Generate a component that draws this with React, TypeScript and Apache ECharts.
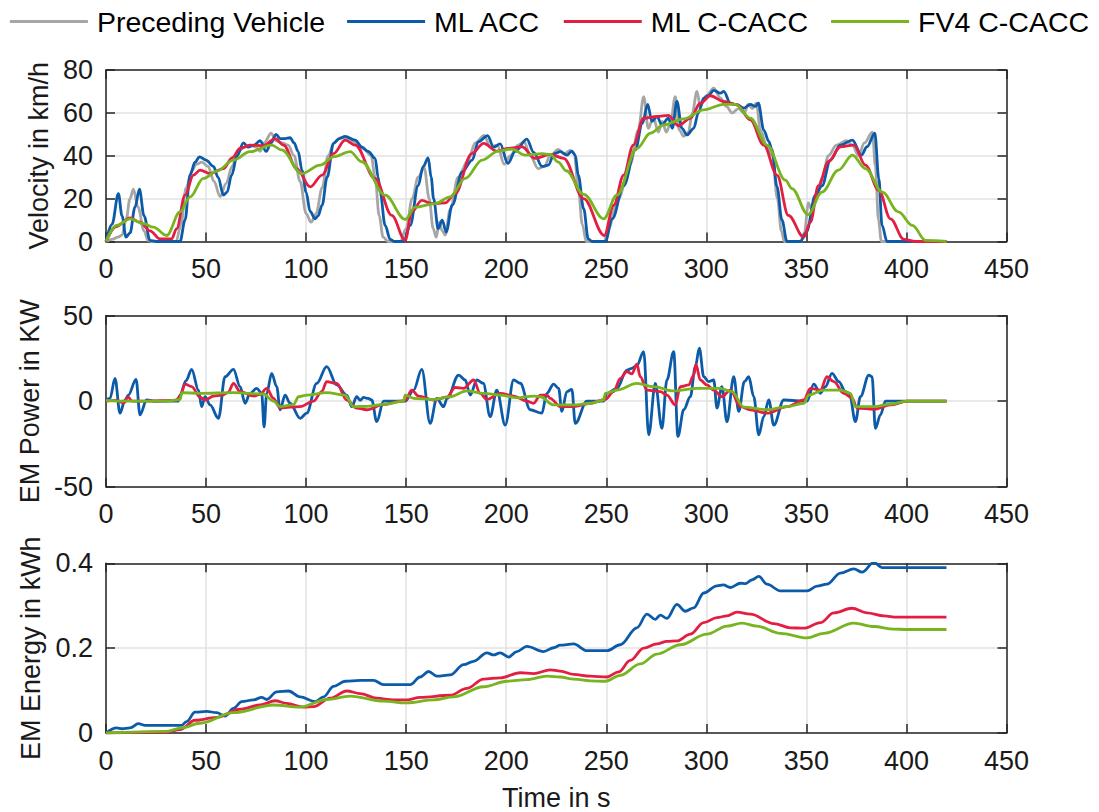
import React, { useEffect, useRef } from 'react';
import * as echarts from 'echarts';

type P = [number, number][];

const seriesNames = ['Preceding Vehicle', 'ML ACC', 'ML C-CACC', 'FV4 C-CACC'];
const seriesColors = ['#a6a6a6', '#0c5ba8', '#e21f43', '#77b41f'];

// Velocity in km/h over time in s
const velPreceding: P = [[0,0],[3,1],[6,2],[8,3],[10,10],[12,20],[13.7,24.4],[16,16],[19,5],[21,0.5],[23,0],[35,0],[37.5,8],[40,25],[43,33],[45,36],[48,37],[51,35],[54,28],[57,21],[60,27],[63,35],[66,42],[69,44],[72,45],[75,44],[77,42],[79,46],[82.5,50.5],[85,47],[88,46],[91,45],[94,40],[97,28],[100,13],[102.5,9],[105,13],[108,25],[111,40],[114,46],[117.5,48.5],[121,48],[125,46],[129,43],[132.5,40],[134.5,30],[136.5,12],[138.5,2],[141,0],[147,0],[150,6],[153,20],[156,30],[159,34.5],[161.5,20],[163.5,6],[165,2],[166.5,9],[168,5],[169.5,3],[172,15],[176,30],[181,38],[184.5,46],[189,49.5],[192,44],[195.5,45],[199,36],[202,40],[206,45],[209,46.5],[212,40],[216,34],[219,35],[222,40],[226,43],[229,41],[232,42.5],[234,41],[236,25],[238,8],[240,0],[249,0],[251,6],[256,20],[262,36],[266,52],[268.7,67.6],[271,52.8],[273.5,58],[276,51],[278,56],[280,51],[282,55],[284.5,67.6],[286.5,52],[288.7,49],[291,51],[293,60],[295.3,70],[297,63],[300,68],[303.7,71.5],[307,67],[310,63],[313,60],[316,62],[319,60],[321,64],[323,62],[325,64.5],[327,52],[330,45],[333,40],[335.5,20],[337.5,5],[339,0],[347,0],[349,4],[351,18],[352.5,15],[355,22],[358,30],[361,40],[365,45],[370,47],[373,45],[376,40],[379,46],[383,51],[384.5,35],[386,10],[387.5,0],[420,0]];
const velMLACC: P = [[0,0],[3,8],[6.2,22.3],[8,12],[10,2],[12,4],[14.5,16],[16.7,24.4],[19,12],[22,0.5],[25,0],[37,0],[39.5,10],[42,31],[44.5,37],[46.7,39.5],[50,38],[53.7,35],[56,30],[58.7,21.6],[60.5,23],[62.8,31],[65.5,40],[68.7,46],[71,44],[74,45],[77,47],[80,42],[82.5,46],[85,50],[87,48],[89.5,48],[92,48.4],[94,46],[96,42],[98,33],[100,23],[102,14],[104.5,10.6],[106,12],[108,17],[110.5,30],[113.7,45.8],[116.5,48],[119.5,49],[124.5,47.3],[128,44],[131,42],[134.5,38.8],[136,30],[137,23],[139.5,7.5],[142,1],[144,0],[148.7,0],[152,7.5],[156,26],[158.5,35],[161,39],[162.5,30],[163.7,20],[166,6],[168,10],[170,4.4],[173,17],[178,32.5],[183,38],[186,46.5],[190.7,49.4],[193.7,44],[197,45.5],[200.8,36.4],[204.5,42],[210.3,47.8],[213.7,41.6],[218,35],[221,35.6],[224,41],[227,41.9],[230.3,40.3],[232.8,42.2],[234.5,40.3],[236,31],[238.7,15.3],[241,1.2],[243,0],[249.5,0],[253,10.6],[258.7,26],[264.5,42.7],[268,55],[270.7,64],[272.8,56],[275.3,58.3],[277.8,54.4],[281,57.5],[283,52.8],[285.3,65.3],[287.8,52.8],[290.3,49.7],[293.7,52.8],[296,60],[298.7,66.9],[301,68],[303.7,70.5],[307,69.2],[308.7,70],[312,64.5],[315.3,63.8],[318.7,62.2],[322,64],[324.5,63],[326,64.5],[328.7,52],[331.2,46.7],[332.8,42.8],[335.3,25.6],[337.8,10],[340.3,0],[347,0],[350,4.4],[354.5,21.6],[357.8,26],[362,38],[367,45],[373,47.3],[377.5,40.3],[380.3,44.2],[384.2,50.5],[386.2,29.4],[387.8,7.5],[390.3,0],[420,0]];
const velMLCCACC: P = [[0,0],[5,7],[12,11],[17,9],[22,5],[27,1.2],[32.8,1.2],[35.3,6],[39.5,21.6],[43.7,31],[47,33.3],[52,31.7],[58.7,34],[63,39],[67,43.4],[72,45],[78.7,44.7],[84.5,48],[88.7,45],[95.3,34],[102,25.5],[108,31],[113.7,41],[119.5,47.3],[124.5,45],[134.5,29.4],[142.8,12.2],[149.5,0.5],[152.8,13.8],[157.8,19.2],[162.8,17.7],[169.5,18],[174.5,22.3],[182.8,41],[188.7,45.8],[195.3,42.2],[201,43.4],[207.8,44.2],[214.5,38.8],[222,40.6],[228.7,38.8],[238.7,20],[249,2.8],[253.7,16.9],[258.7,31],[263.5,45],[268.7,57.5],[275.3,58.3],[281,58.8],[286,54],[292,57.5],[297,64.5],[302,68],[308.7,65.3],[315.3,63.8],[322,56.7],[328.7,45],[335.3,31],[341,12.2],[348.7,2],[352,9],[356,26],[361,37.2],[367,44.2],[373.7,45],[379.5,35.6],[386.2,23.9],[392,10.6],[398.7,1],[404.5,0],[420,0]];
const velFV4: P = [[0,0],[5.3,7.5],[12,10.6],[18.7,8.3],[23.7,6.7],[30.3,2.8],[37,13.8],[42,20.8],[48.7,29.4],[55.3,32.8],[63.7,38],[72,41.9],[82.8,45],[87.8,42.7],[97.8,31.7],[107,35.6],[113.7,39.5],[122,41.9],[127.8,37.2],[139.5,21.6],[149.5,10.3],[154.5,16],[164.5,17.7],[172,20.8],[179.5,29.4],[188,38],[196,42.2],[202.8,43.1],[209.5,40.3],[218,41],[222,40.6],[226,37],[230,33],[238.7,22],[248.7,10.6],[255.3,21.6],[265.3,43.4],[272,50.5],[278.7,54.4],[288.7,57.2],[298.7,61.4],[308.7,64],[314.5,64],[322,57.5],[330.3,45],[339.5,28.6],[342.8,24.7],[350.8,12.5],[357.8,23],[366,33.3],[373,40.3],[379.5,34],[388,23],[396,13.8],[403,7.5],[409.5,0.5],[420,0]];

// EM power in kW
const powMLACC: P = [[0,0.7],[2,1.7],[4.5,13.3],[7,-7],[9.5,0.7],[11.2,3.6],[15,12.8],[17,-8],[20.3,0.7],[25,0],[36,0],[37,3.6],[40,12],[42.8,18.6],[46.2,6.5],[47.8,-3.2],[49.5,2.6],[52,-2.2],[56.2,-10],[59.5,14.3],[63.7,18.6],[67,8.5],[69.5,-1.2],[72,4.6],[75.3,7.5],[77.8,4.6],[79,-15],[80.3,4.6],[82.8,16.3],[85.3,8.5],[87,-5],[89.5,3.6],[92,-1.2],[97,-10],[100.3,-7],[105.3,10.4],[110.3,20.2],[115.3,9.5],[120.3,3.6],[122.8,-3.2],[125.3,2.6],[127,0.5],[128.7,2.2],[131,1.6],[132.8,0.7],[135.3,-12],[138.7,0],[149.5,0],[153.7,6.5],[157.8,18.6],[162,-13],[165.3,1.7],[168.7,-3.2],[170.5,1.7],[176.2,15.3],[179.5,12.4],[182,3.6],[185.3,12.4],[188.5,10.5],[192,-9],[195.3,6.5],[199.5,-14],[203.7,12.4],[207,10.5],[212,-5],[217.8,-7],[220.3,4.6],[223.7,10],[226.2,7.5],[227.8,-6],[230.3,5.6],[232.8,6.9],[234.5,-13],[240.3,0],[248.7,0],[250.3,4.6],[255.3,7.5],[260.3,18.2],[262.8,19.2],[265.3,21],[268.7,29],[271.2,-19.7],[274.5,10.4],[277.8,-15.9],[280.3,12.4],[283.7,29],[285.8,-20.6],[288.7,-5],[292,2.6],[294.5,20.2],[296.5,31],[298.7,14.3],[301.2,11.4],[303.7,12.4],[305.3,-4],[307.8,8.5],[310.3,-12],[313.7,14.3],[316.2,-6],[319,11.4],[321.2,14.3],[323.7,2.6],[326.2,-19.7],[328.7,-9],[331.2,0.7],[333.7,-14],[338.7,0.7],[350.3,0],[353.7,10],[357,4.6],[359.5,8.5],[362.8,16.3],[366.2,11.4],[369.5,5.6],[371.5,4.6],[374.5,-12],[377,2.6],[381.2,15.3],[382.8,14.3],[384.5,-15.9],[387,-8],[389.5,0],[420,0]];
const powMLCCACC: P = [[0,0],[5,0.5],[9,-1],[11,2.5],[13,0],[20,0],[35,0.5],[37,3],[39.5,10],[42.8,8.5],[47,2.3],[49.5,0.7],[53.7,3],[58,3.5],[61,5],[63.7,10.4],[67,5.6],[73.7,3],[77,4],[80.3,7.5],[83.7,1.7],[87,-4],[92,-3.5],[97,-3.2],[103.7,0],[107.8,5.6],[110.3,11.4],[115.3,10.4],[120.3,0.7],[125.3,-4],[130.3,-5],[138.7,-2],[147,0],[149.5,0.5],[152.8,6.5],[156.2,3],[163.7,0.7],[170.3,2.3],[174.5,8],[178.7,7.5],[183.7,12.4],[187,4.6],[190.3,1],[197,4.6],[203.7,3],[210.3,0],[213.7,-1.2],[217,3.6],[220.3,3.6],[222,1.7],[227,-3.2],[233.7,-3.2],[242,-1.2],[249.5,1],[253.7,5.6],[257,13.3],[260.3,17.3],[262.8,16],[265.3,21.7],[267,14.3],[270.3,6.5],[277,5.6],[280.3,3.6],[284.5,-2.2],[287,8.5],[291.2,9.5],[293.7,15.3],[294.8,21.5],[297,12.4],[300.3,9.5],[303.7,6.5],[307.8,2.6],[312,6.5],[317,-3.2],[322,-5],[330.3,-7],[340.3,-3.2],[348.7,0.7],[352,7.5],[357,6.5],[360.3,14.3],[363.7,11.4],[368.7,4.6],[372.8,2],[375.3,-4],[383.7,-4.7],[392,-2.2],[400.3,0],[420,0]];
const powFV4: P = [[0,0.5],[10,0],[30,0],[37,1],[38,5],[47,4.6],[63.7,5],[78.7,4.2],[83.7,0],[87,-3.2],[93.7,-2],[96.2,2.6],[100.3,3.6],[110.3,5],[119.5,3.6],[123.7,-3.2],[130.3,-3],[138.7,-1.9],[148.7,0],[149.5,3.6],[153.7,1.7],[163.7,1],[172,2.6],[180.3,6],[188.7,4.6],[197,3.6],[205.3,2],[213.7,3],[217,2.6],[223.7,-2.2],[233.7,-2.2],[242,-1.2],[248.7,0.7],[249.5,4.6],[255.3,6.5],[265.3,10.4],[273.7,8.5],[283.7,6],[295.3,7.5],[307,7.5],[312.8,5.6],[318.7,-3.5],[330.3,-5],[340.3,-3.2],[348.7,-1.2],[351.2,3.6],[358.7,6.5],[367,6.5],[372,4.6],[374.5,-3.2],[383.7,-3.2],[392,-1.7],[400.3,0],[420,0]];

// EM energy in kWh
const engMLACC: P = [[0,0],[5.3,0.012],[8,0.01],[12,0.012],[16.2,0.022],[19.5,0.018],[37.8,0.018],[40.3,0.027],[44.5,0.049],[50.3,0.051],[55.3,0.048],[59.5,0.04],[63.7,0.058],[67.8,0.074],[73.7,0.078],[77.8,0.084],[80.3,0.079],[85.3,0.097],[91.2,0.099],[97,0.085],[104.5,0.074],[108.7,0.085],[113.7,0.11],[119.5,0.122],[127,0.124],[133.7,0.124],[138.7,0.114],[152,0.114],[157,0.132],[161.2,0.145],[165.3,0.134],[172,0.137],[178.7,0.161],[183.7,0.169],[190.3,0.189],[193.7,0.184],[197,0.189],[201.2,0.179],[205.3,0.192],[210.3,0.204],[218.7,0.192],[223.7,0.201],[227,0.207],[233.7,0.21],[240.3,0.194],[250.3,0.194],[257,0.208],[265.3,0.248],[270.3,0.28],[274.5,0.268],[277,0.278],[280.3,0.27],[285.3,0.303],[289.5,0.287],[293.7,0.295],[298.7,0.33],[305.3,0.347],[308.5,0.349],[312,0.343],[317,0.353],[319.5,0.352],[322.8,0.361],[326.2,0.369],[330.3,0.351],[337,0.335],[350.3,0.335],[355.3,0.346],[360.3,0.351],[367,0.377],[373.7,0.387],[377.8,0.379],[383.7,0.402],[387.8,0.39],[420,0.39]];
const engMLCCACC: P = [[0,0],[30.3,0.002],[37,0.008],[44.5,0.03],[55.3,0.037],[67,0.056],[77,0.066],[84.5,0.076],[90.3,0.07],[98.7,0.061],[103.7,0.062],[112,0.082],[120.3,0.099],[127,0.093],[135.3,0.082],[143.7,0.078],[150.3,0.078],[157,0.084],[172,0.089],[180.3,0.105],[188.7,0.127],[197,0.13],[207,0.142],[213.7,0.14],[222,0.149],[227,0.146],[233.7,0.138],[242,0.134],[250.3,0.132],[256.2,0.144],[262,0.171],[268.7,0.2],[275.3,0.21],[280.3,0.216],[285.3,0.217],[292,0.233],[298.7,0.26],[305.3,0.272],[310.3,0.276],[315.3,0.285],[322,0.28],[333.7,0.258],[342,0.248],[348.7,0.247],[357,0.26],[363.7,0.283],[372.8,0.294],[380.3,0.283],[388.7,0.276],[395.3,0.273],[420,0.273]];
const engFV4: P = [[0,0],[30.3,0.004],[37.8,0.012],[47,0.023],[63.7,0.048],[83.7,0.066],[97,0.061],[110.3,0.079],[122,0.087],[138.7,0.075],[150.3,0.071],[163.7,0.078],[173.7,0.085],[188.7,0.109],[200.3,0.122],[210.3,0.126],[220.3,0.134],[227,0.132],[233.7,0.127],[242,0.123],[249.5,0.122],[257,0.136],[267,0.163],[275.3,0.186],[287,0.208],[300.3,0.233],[310.3,0.252],[317.8,0.259],[325.3,0.252],[337,0.235],[350.3,0.224],[358.7,0.235],[373.7,0.259],[383.7,0.251],[393.7,0.245],[400.3,0.244],[420,0.244]];

const FONT = '"Liberation Sans", Arial, Helvetica, sans-serif';
const AX = '#262626';
const GRIDC = '#e2e2e2';

function xAxes(gridIndex: number, showLabel: boolean, name?: string) {
  return [
    {
      type: 'value', gridIndex, position: 'bottom', min: 0, max: 450, interval: 50,
      axisLine: { show: true, onZero: false, lineStyle: { color: AX, width: 1.5 } },
      axisTick: { show: true, inside: true, length: 9, lineStyle: { color: AX, width: 1.5 } },
      axisLabel: { show: showLabel, color: '#1a1a1a', fontSize: 27, fontFamily: FONT, margin: 14 },
      splitLine: { show: true, lineStyle: { color: GRIDC, width: 1.5 } },
      name: name || '', nameLocation: 'middle', nameGap: 51,
      nameTextStyle: { color: '#1a1a1a', fontSize: 27, fontFamily: FONT },
    },
    {
      type: 'value', gridIndex, position: 'top', min: 0, max: 450, interval: 50,
      axisLine: { show: true, onZero: false, lineStyle: { color: AX, width: 1.5 } },
      axisTick: { show: true, inside: true, length: 9, lineStyle: { color: AX, width: 1.5 } },
      axisLabel: { show: false },
      splitLine: { show: false },
    },
  ];
}

function yAxes(gridIndex: number, min: number, max: number, interval: number, name: string) {
  return [
    {
      type: 'value', gridIndex, position: 'left', min, max, interval,
      axisLine: { show: true, onZero: false, lineStyle: { color: AX, width: 1.5 } },
      axisTick: { show: true, inside: true, length: 9, lineStyle: { color: AX, width: 1.5 } },
      axisLabel: { show: true, color: '#1a1a1a', fontSize: 27, fontFamily: FONT, margin: 13 },
      splitLine: { show: true, lineStyle: { color: GRIDC, width: 1.5 } },
      name, nameLocation: 'middle', nameGap: 54, nameRotate: 90,
      nameTextStyle: { color: '#1a1a1a', fontSize: 27, fontFamily: FONT },
    },
    {
      type: 'value', gridIndex, position: 'right', min, max, interval,
      axisLine: { show: true, onZero: false, lineStyle: { color: AX, width: 1.5 } },
      axisTick: { show: true, inside: true, length: 9, lineStyle: { color: AX, width: 1.5 } },
      axisLabel: { show: false },
      splitLine: { show: false },
    },
  ];
}

function line(nameIdx: number, data: P, axisIdx: number) {
  return {
    type: 'line', name: seriesNames[nameIdx], data,
    xAxisIndex: axisIdx, yAxisIndex: axisIdx,
    showSymbol: false, symbol: 'none', smooth: 0.35, smoothMonotone: 'x',
    lineStyle: { color: seriesColors[nameIdx], width: 2.8 },
    itemStyle: { color: seriesColors[nameIdx] },
    emphasis: { disabled: true },
  };
}

export default function App() {
  const ref = useRef<HTMLDivElement>(null);
  useEffect(() => {
    if (!ref.current) return;
    const chart = echarts.init(ref.current, undefined, { renderer: 'svg' });
    const option: any = {
      animation: false,
      backgroundColor: '#ffffff',
      textStyle: { fontFamily: FONT },
      legend: {
        data: seriesNames,
        top: 2, left: 'center',
        icon: 'rect', itemWidth: 78, itemHeight: 3, itemGap: 22,
        textStyle: { color: '#000', fontSize: 28.5, fontFamily: FONT, padding: [0, 0, 0, 4] },
        selectedMode: false,
      },
      grid: [
        { left: 106, right: 92.5, top: 70, height: 171.5 },
        { left: 106, right: 92.5, top: 315.7, height: 171 },
        { left: 106, right: 92.5, top: 563.3, height: 171.7 },
      ],
      xAxis: [...xAxes(0, true), ...xAxes(1, true), ...xAxes(2, true, 'Time in s')],
      yAxis: [
        ...yAxes(0, 0, 80, 20, 'Velocity in km/h'),
        ...yAxes(1, -50, 50, 50, 'EM Power in KW'),
        ...yAxes(2, 0, 0.4, 0.2, 'EM Energy in kWh'),
      ],
      series: [
        line(0, velPreceding, 0),
        line(1, velMLACC, 0),
        line(2, velMLCCACC, 0),
        line(3, velFV4, 0),
        line(1, powMLACC, 2),
        line(2, powMLCCACC, 2),
        line(3, powFV4, 2),
        line(1, engMLACC, 4),
        line(2, engMLCCACC, 4),
        line(3, engFV4, 4),
      ],
    };
    chart.setOption(option);
    return () => chart.dispose();
  }, []);
  return (
    <div
      ref={ref}
      style={{ position: 'fixed', left: 0, top: 0, width: 1099, height: 812, background: '#fff' }}
    />
  );
}
